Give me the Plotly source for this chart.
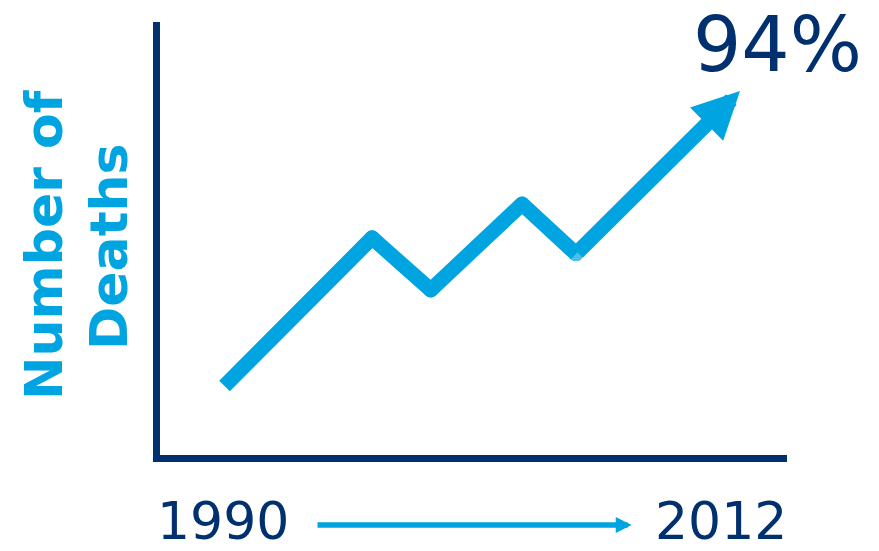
import plotly.graph_objects as go

# ---- data (index 1990 = 100) ----
years = [1990, 1996.3, 1998.8, 2002.7, 2005.0, 2012]
deaths_index = [100, 147.2, 130.6, 158.0, 142.1, 194]
start_label = "1990"
end_label = "2012"
change_label = "94%"
y_label_lines = ["Number of", "Deaths"]

NAVY = "#00306e"
BLUE = "#00a4e0"
W = 15

fig = go.Figure()

# main line up to the last turning point
fig.add_trace(go.Scatter(
    x=years[:-1], y=deaths_index[:-1],
    mode="lines+markers",
    line=dict(color=BLUE, width=W),
    marker=dict(color=BLUE, size=[0] + [W] * (len(years) - 2), line=dict(width=0)),
    hoverinfo="skip", showlegend=False,
))

annotations = [
    # final arrow segment ending at the 2012 value
    dict(x=years[-1], y=deaths_index[-1], xref="x", yref="y",
         ax=years[-2], ay=deaths_index[-2], axref="x", ayref="y",
         text="", showarrow=True, arrowhead=2, arrowsize=0.627,
         arrowwidth=W, arrowcolor=BLUE),
    # bottom timeline arrow
    dict(x=0.7523, y=-0.1617, xref="paper", yref="paper",
         ax=-315.7, ay=0, axref="pixel", ayref="pixel",
         text="", showarrow=True, arrowhead=2, arrowsize=0.58,
         arrowwidth=5.5, arrowcolor=BLUE),
    dict(x=0.1005, y=-0.1513, xref="paper", yref="paper", text=start_label,
         showarrow=False, xanchor="center", yanchor="middle",
         font=dict(family="DejaVu Sans", size=52, color=NAVY)),
    dict(x=0.894, y=-0.1513, xref="paper", yref="paper", text=end_label,
         showarrow=False, xanchor="center", yanchor="middle",
         font=dict(family="DejaVu Sans", size=52, color=NAVY)),
    dict(x=0.9856, y=0.9469, xref="paper", yref="paper", text=change_label,
         showarrow=False, xanchor="center", yanchor="middle",
         font=dict(family="DejaVu Sans", size=76, color=NAVY)),
    dict(x=-0.1850, y=0.485, xref="paper", yref="paper", text="<b>%s</b>" % y_label_lines[0],
         showarrow=False, xanchor="center", yanchor="middle", textangle=-90,
         font=dict(family="DejaVu Sans", size=52, color=BLUE)),
    dict(x=-0.0815, y=0.4804, xref="paper", yref="paper", text="<b>%s</b>" % y_label_lines[1],
         showarrow=False, xanchor="center", yanchor="middle", textangle=-90,
         font=dict(family="DejaVu Sans", size=52, color=BLUE)),
]

fig.update_layout(
    width=879, height=551,
    margin=dict(l=160, r=92, t=22, b=96),
    paper_bgcolor="white", plot_bgcolor="white",
    showlegend=False, hovermode=False,
    annotations=annotations,
    xaxis=dict(range=[1987.247, 2014.006], showgrid=False, zeroline=False,
               showticklabels=False, ticks="", showline=True,
               linecolor=NAVY, linewidth=7, fixedrange=True),
    yaxis=dict(range=[78, 216], showgrid=False, zeroline=False,
               showticklabels=False, ticks="", showline=True,
               linecolor=NAVY, linewidth=7, fixedrange=True),
)

post = """
document.body.style.margin = '0';
document.body.style.overflow = 'hidden';
var gd = document.getElementById('{plot_id}');
function roundJoins() {
  gd.querySelectorAll('.scatterlayer .js-line').forEach(function (p) {
    p.style.strokeLinejoin = 'round';
  });
}
roundJoins();
setTimeout(roundJoins, 0);
if (gd.on) { gd.on('plotly_afterplot', roundJoins); }
"""

fig.write_html("out.html", config={"displayModeBar": False}, post_script=post)
